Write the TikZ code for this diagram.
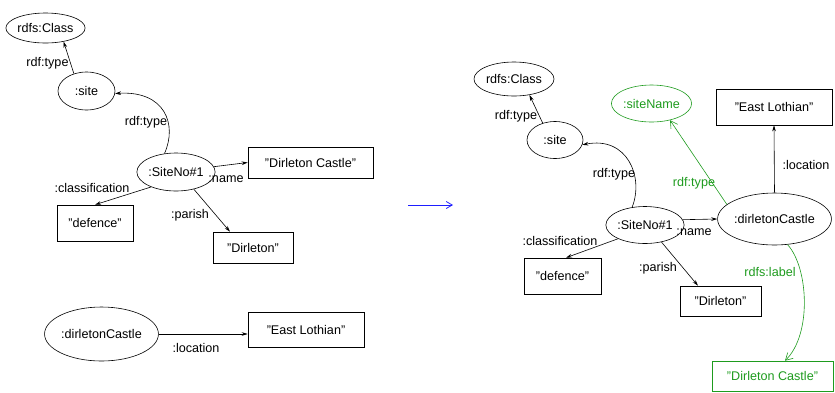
\documentclass[tikz,border=0pt]{standalone}
\usepackage{fontspec}
\setmainfont{Liberation Sans}
\usetikzlibrary{shapes.geometric,arrows.meta}
\definecolor{rgreen}{RGB}{30,155,30}
\definecolor{rblue}{RGB}{30,30,255}
\begin{document}
\begin{tikzpicture}[x=1pt,y=1pt,
  every node/.style={font=\fontsize{12.6}{15}\selectfont},
  ell/.style={draw, ellipse, inner sep=0pt, line width=0.6pt},
  box/.style={draw, rectangle, inner sep=0pt, line width=0.6pt},
  lbl/.style={inner sep=0pt},
  arr/.style={-{Stealth[length=6pt,width=3.6pt]}, line width=0.6pt},
  garr/.style={-{Straight Barb[length=7pt,width=8pt]}, line width=0.6pt, draw=rgreen},
  glbl/.style={inner sep=0pt, text=rgreen}
]
\path[use as bounding box] (0,0) rectangle (835,-392);

% ---------- left graph ----------
\node[ell, minimum width=77pt, minimum height=30pt] (lclass) at (45.5,-28) {rdfs:Class};
\node[ell, minimum width=57pt, minimum height=38pt] (lsite) at (86.5,-91) {:site};
\node[ell, minimum width=56pt, minimum height=38pt] (lsno) at (176,-172) {:SiteNo\#1};
\node[box, minimum width=125pt, minimum height=31pt] (lname) at (310.5,-162.5) {"Dirleton Castle"};
\node[box, minimum width=76pt, minimum height=36pt] (ldef) at (95,-223) {"defence"};
\node[box, minimum width=80pt, minimum height=31pt] (ldirl) at (253,-247.5) {"Dirleton"};
\node[ell, minimum width=107pt, minimum height=54pt] (ldc) at (101.5,-334) {:dirletonCastle};
\node[box, minimum width=116pt, minimum height=35pt] (lel) at (306,-329.5) {"East Lothian"};

\draw[arr] (lsite.126) -- (lclass.-37);
\draw[arr] (lsno.122) .. controls +(13,29) and +(50,3) .. (lsite.-5);
\draw[arr] (lsno.8) -- (lname.west);
\draw[arr] (lsno.211) -- (ldef.north);
\draw[arr] (lsno.-44) -- ([xshift=-23pt]ldirl.north);
\draw[arr] (ldc.east) -- (ldc.east -| lel.west);

\node[lbl] (t1) at (47.5,-63) {rdf:type};
\node[lbl] (t2) at (146,-122) {rdf:type};
\node[lbl] (t3) at (226,-179) {:name};
\node[lbl] (t4) at (92,-188) {:classification};
\node[lbl] (t5) at (190,-215) {:parish};
\node[lbl] (t6) at (196,-348) {:location};

% ---------- blue arrow ----------
\coordinate (b1) at (408,-205);
\coordinate (b2) at (453,-205);
\draw[rblue, -{Straight Barb[length=6pt,width=7pt]}, line width=0.8pt] (b1) -- (b2);

% ---------- right graph ----------
\node[ell, minimum width=80pt, minimum height=34pt] (rclass) at (514,-79) {rdfs:Class};
\node[ell, minimum width=56pt, minimum height=37pt] (rsite) at (555,-140) {:site};
\node[ell, draw=rgreen, text=rgreen, minimum width=57pt, minimum height=37pt] (sname) at (651.5,-103.5) {:siteName};
\node[box, minimum width=116pt, minimum height=36pt] (rel) at (774,-107) {"East Lothian"};
\node[ell, minimum width=56pt, minimum height=37pt] (rsno) at (645,-225) {:SiteNo\#1};
\node[ell, minimum width=107pt, minimum height=52pt] (rdc) at (774.5,-219) {:dirletonCastle};
\node[box, minimum width=77pt, minimum height=36pt] (rdef) at (562.5,-276) {"defence"};
\node[box, minimum width=81pt, minimum height=30pt] (rdirl) at (720.5,-301) {"Dirleton"};
\node[box, draw=rgreen, text=rgreen, minimum width=121pt, minimum height=30pt] (rdcl) at (772.5,-376) {"Dirleton Castle"};

\draw[arr] (rsite.126) -- (rclass.-46);
\draw[arr] (rsno.126) .. controls +(12,30) and +(45,9) .. (rsite.-10);
\draw[arr] (rsno.8) -- (rdc.west);
\draw[arr] (rsno.207) -- ([xshift=3.5pt]rdef.north);
\draw[arr] (rsno.-46) -- ([xshift=-22.5pt]rdirl.north);
\draw[arr] (rdc.north) -- (rel.south);
\draw[garr] (rdc.163) -- (sname.-42);
\draw[garr] (rdc.-63) .. controls +(21,-23) and +(27,26) .. ([xshift=12.5pt]rdcl.north);

\node[lbl] (u1) at (516,-116) {rdf:type};
\node[lbl] (u2) at (614,-174) {rdf:type};
\node[lbl] (u3) at (694,-232) {:name};
\node[lbl] (u4) at (560,-241) {:classification};
\node[lbl] (u5) at (658,-268) {:parish};
\node[lbl] (u6) at (806,-165) {:location};
\node[glbl] (u7) at (694,-183) {rdf:type};
\node[glbl] (u8) at (770,-272) {rdfs:label};
\end{tikzpicture}
\end{document}
